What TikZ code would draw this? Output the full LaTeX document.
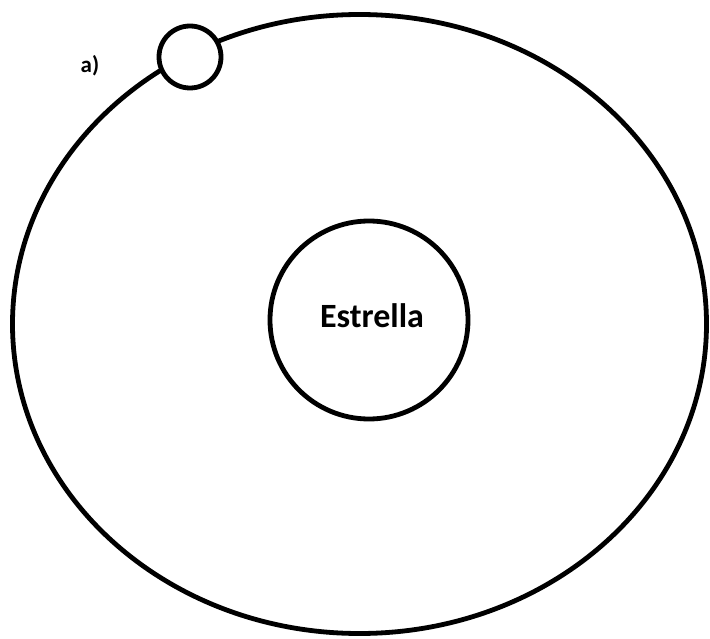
\documentclass[tikz,border=0pt]{standalone}
\usepackage{fontspec}
\setmainfont{Carlito}
\begin{document}
\begin{tikzpicture}[x=1pt,y=-1pt,
  ring/.style={draw=black,line width=4.8pt},
  lbl/.style={font=\bfseries\fontsize{34}{34}\selectfont,inner sep=0pt}]
\useasboundingbox (0,0) rectangle (710,639);
\draw[ring] (359.5,324) ellipse [x radius=347, y radius=309.5];
\node[ring,circle,fill=white,minimum size=62pt,inner sep=0pt] (planet) at (190,57) {};
\node[ring,circle,minimum size=198pt,inner sep=0pt] (star) at (369,320) {};
\node[lbl] (name) at (372,316) {Estrella};
\node[font=\bfseries\fontsize{23}{23}\selectfont,inner sep=0pt] (a) at (90,66) {a)};
\end{tikzpicture}
\end{document}
